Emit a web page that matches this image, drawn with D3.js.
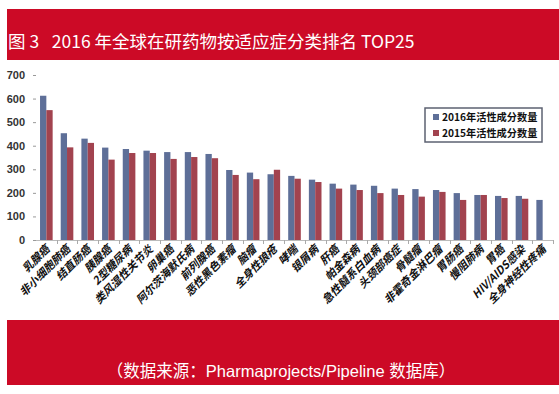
<!DOCTYPE html>
<html>
<head>
<meta charset="utf-8">
<script src="https://cdn.jsdelivr.net/npm/d3@7"></script>
<style>
  body { margin: 0; background: #fff; }
  svg { display: block; }
</style>
</head>
<body>
<div id="chart"></div>
<script>
// categories and values
const categories = ["乳腺癌", "非小细胞肺癌", "结直肠癌", "胰腺癌", "2型糖尿病", "类风湿性关节炎",
  "卵巢癌", "阿尔茨海默氏病", "前列腺癌", "恶性黑色素瘤", "脑瘤", "全身性狼疮", "哮喘", "银屑病",
  "肝癌", "帕金森病", "急性髓系白血病", "头颈部癌症", "骨髓瘤", "非霍奇金淋巴瘤", "胃肠癌",
  "慢阻肺病", "胃癌", "HIV/AIDS感染", "全身神经性疼痛"];
const values2016 = [612, 453, 430, 392, 386, 379, 373, 373, 365, 297, 286, 279, 272, 256,
  239, 235, 230, 218, 216, 212, 199, 191, 187, 187, 170];
const values2015 = [551, 393, 412, 341, 369, 369, 344, 352, 347, 276, 258, 298, 260, 246,
  218, 212, 199, 191, 184, 204, 170, 191, 178, 175, null];
const seriesNames = ["2016年活性成分数量", "2015年活性成分数量"];
const yTicks = [0, 100, 200, 300, 400, 500, 600, 700];

const width = 559, height = 394;
const colors = ["#5e6f98", "#a2434f"];
const red = "#cc0a26";

const svg = d3.select("#chart")
  .append("svg")
  .attr("width", width)
  .attr("height", height)
  .style("font-family", "'Noto Sans CJK SC', 'Liberation Sans', sans-serif");

// title band
svg.append("rect")
  .attr("x", 7).attr("y", 9).attr("width", width - 7).attr("height", 51)
  .attr("fill", red);
svg.append("text")
  .attr("x", 8).attr("y", 48)
  .attr("fill", "#fff")
  .style("font-size", "17.5px")
  .text("图 3\u2002 2016 年全球在研药物按适应症分类排名 TOP25");

// bottom band
svg.append("rect")
  .attr("x", 7).attr("y", 320).attr("width", width - 7).attr("height", 65)
  .attr("fill", red);
svg.append("text")
  .attr("x", 281).attr("y", 377)
  .attr("text-anchor", "middle")
  .attr("fill", "#fff")
  .style("font-family", "'Liberation Sans', 'Noto Sans CJK SC', sans-serif")
  .style("font-size", "16.5px")
  .text("（数据来源：Pharmaprojects/Pipeline 数据库）");

// scales
const x = d3.scaleBand().domain(categories).range([36, 553]).paddingInner(0.39).paddingOuter(0.195);
const xOuter = d3.scaleBand().domain(categories).range([36, 553]);
const sub = d3.scaleBand().domain([0, 1]).range([0, x.bandwidth()]);
const y = d3.scaleLinear().domain([0, 700]).range([240, 75]);

// y axis
const yAxis = svg.append("g")
  .attr("transform", "translate(36,0)")
  .call(d3.axisLeft(y).tickValues(yTicks).tickSize(3).tickPadding(8));
yAxis.select(".domain").remove();
yAxis.selectAll("line").attr("stroke", "#999");
yAxis.selectAll("text")
  .attr("fill", "#333")
  .style("font-family", "'Liberation Sans', Arial, sans-serif")
  .style("font-size", "11px")
  .style("font-weight", "bold");

// x axis line and ticks at category boundaries
svg.append("line")
  .attr("x1", 36).attr("x2", 553).attr("y1", 240.5).attr("y2", 240.5)
  .attr("stroke", "#bbb");
svg.selectAll(".xtick")
  .data(categories)
  .join("line")
  .attr("class", "xtick")
  .attr("x1", d => Math.round(xOuter(d) + xOuter.bandwidth()) + 0.5)
  .attr("x2", d => Math.round(xOuter(d) + xOuter.bandwidth()) + 0.5)
  .attr("y1", 240).attr("y2", 244)
  .attr("stroke", "#aaa");

// bars
const rows = categories.map((c, i) => ({ c, v: [values2016[i], values2015[i]] }));
const groups = svg.selectAll(".grp")
  .data(rows)
  .join("g")
  .attr("class", "grp")
  .attr("transform", d => `translate(${x(d.c)},0)`);
groups.selectAll("rect")
  .data(d => d.v.map((v, k) => ({ v, k })).filter(e => e.v != null))
  .join("rect")
  .attr("x", e => sub(e.k))
  .attr("width", sub.bandwidth())
  .attr("y", e => y(e.v))
  .attr("height", e => y(0) - y(e.v))
  .attr("fill", e => colors[e.k]);

// category labels
svg.selectAll(".xlab")
  .data(categories)
  .join("text")
  .attr("class", "xlab")
  .attr("transform", d => `translate(${x(d) + x.bandwidth() / 2 + 4},250) rotate(-45)`)
  .attr("text-anchor", "end")
  .attr("fill", "#111")
  .style("font-size", "11px")
  .style("font-weight", "bold")
  .style("font-style", "italic")
  .text(d => d);

// legend
const legend = svg.append("g").attr("transform", "translate(425,108)");
legend.append("rect")
  .attr("width", 117).attr("height", 34)
  .attr("fill", "#fff")
  .attr("stroke", "#5c6272")
  .attr("stroke-width", 1.5);
seriesNames.forEach((name, i) => {
  legend.append("rect")
    .attr("x", 8).attr("y", 6 + i * 16)
    .attr("width", 6).attr("height", 6)
    .attr("fill", colors[i]);
  legend.append("text")
    .attr("x", 17).attr("y", 13 + i * 16)
    .attr("fill", "#111")
    .style("font-size", "10.2px")
    .style("font-weight", "bold")
    .text(name);
});
</script>
</body>
</html>
